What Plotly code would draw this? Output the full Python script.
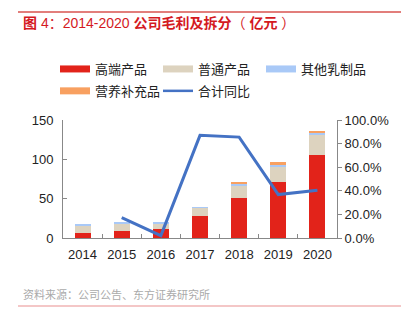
import plotly.graph_objects as go

years = ["2014", "2015", "2016", "2017", "2018", "2019", "2020"]
high_end = [6, 9, 11, 28, 51, 71.5, 106]
regular = [10, 9.5, 7.6, 10.5, 16, 19, 25]
other_dairy = [1.5, 1.5, 1.5, 0.5, 2, 2, 2.5]
supplement = [0, 0, 0, 0, 1.5, 3.5, 1.5]
yoy = [None, 0.173, 0.02, 0.87, 0.855, 0.368, 0.404]

names = ["高端产品", "普通产品", "其他乳制品", "营养补充品", "合计同比"]
colors = ["#e2231a", "#ddd3bf", "#a9c9f7", "#f8a060", "#4472c4"]
legend_slot = ["legend", "legend2", "legend3", "legend", "legend2"]

FONT = "Liberation Sans, Arial, Noto Sans CJK SC, sans-serif"

# plot area in pixels (used to place text outside it in paper units)
PL, PR, PT, PB = 63, 337, 120, 238
PW, PH = PR - PL, PB - PT
def px(x): return (x - PL) / PW
def py(y): return (PB - y) / PH

fig = go.Figure()
for vals, nm, col in zip([high_end, regular, other_dairy, supplement], names[:4], colors[:4]):
    fig.add_trace(go.Bar(x=years, y=vals, name=nm, marker=dict(color=col, line=dict(width=0)),
                         showlegend=False))
fig.add_trace(go.Scatter(x=years, y=yoy, name=names[4], mode="lines", yaxis="y2",
                         line=dict(color=colors[4], width=3), showlegend=False))

# legend entries (wide swatches like the reference)
for i, (nm, col, lg) in enumerate(zip(names, colors, legend_slot)):
    fig.add_trace(go.Scatter(x=[None], y=[None], name=nm, mode="lines",
                             line=dict(color=col, width=7 if i < 4 else 2.5),
                             showlegend=True, legend=lg, legendgroup=f"g{i}"))

def leg(xpix):
    return dict(orientation="v", xref="paper", yref="paper",
                x=px(xpix), y=py(54), xanchor="left", yanchor="top",
                font=dict(size=13, color="#222"), traceorder="grouped",
                tracegroupgap=2, bgcolor="rgba(0,0,0,0)", itemsizing="trace")

fig.update_layout(
    width=401, height=322,
    margin=dict(l=PL, r=401 - PR, t=PT, b=322 - PB),
    paper_bgcolor="white", plot_bgcolor="white",
    barmode="stack", bargap=0.59,
    font=dict(family=FONT, size=13, color="#222"),
    legend=leg(55), legend2=leg(158), legend3=leg(261),
    xaxis=dict(type="category", showline=True, linecolor="#888", linewidth=1,
               ticks="inside", ticklen=4, tickcolor="#888", tickson="boundaries",
               showgrid=False, tickfont=dict(size=13), ticklabelstandoff=4),
    yaxis=dict(range=[0, 150], dtick=50, showline=True, linecolor="#888",
               ticks="inside", ticklen=4, tickcolor="#888", showgrid=False,
               zeroline=False, tickfont=dict(size=13), ticklabelstandoff=6),
    yaxis2=dict(range=[0, 1], dtick=0.2, tickformat=".1%", overlaying="y", side="right",
                showline=True, linecolor="#888", ticks="outside", ticklen=4,
                tickcolor="#888", showgrid=False, zeroline=False, tickfont=dict(size=13)),
)

fig.add_annotation(text="<b>图</b> 4：2014-2020 <b>公司毛利及拆分</b>（ <b>亿元</b> ）",
                   xref="paper", yref="paper",
                   x=px(21), y=py(23), xanchor="left", yanchor="middle",
                   showarrow=False, font=dict(size=14, color="#d41a1f", family=FONT))
fig.add_annotation(text="资料来源：公司公告、东方证券研究所", xref="paper", yref="paper",
                   x=px(21), y=py(294), xanchor="left", yanchor="middle",
                   showarrow=False, font=dict(size=11, color="#aaaaaa", family=FONT))
fig.add_shape(type="line", xref="paper", yref="paper", x0=px(18), x1=px(401),
              y0=py(12), y1=py(12), line=dict(color="#d9534f", width=1.5))
fig.add_shape(type="line", xref="paper", yref="paper", x0=px(18), x1=px(401),
              y0=py(306), y1=py(306), line=dict(color="#f0b4b4", width=1.5))

fig.write_html("out.html")
